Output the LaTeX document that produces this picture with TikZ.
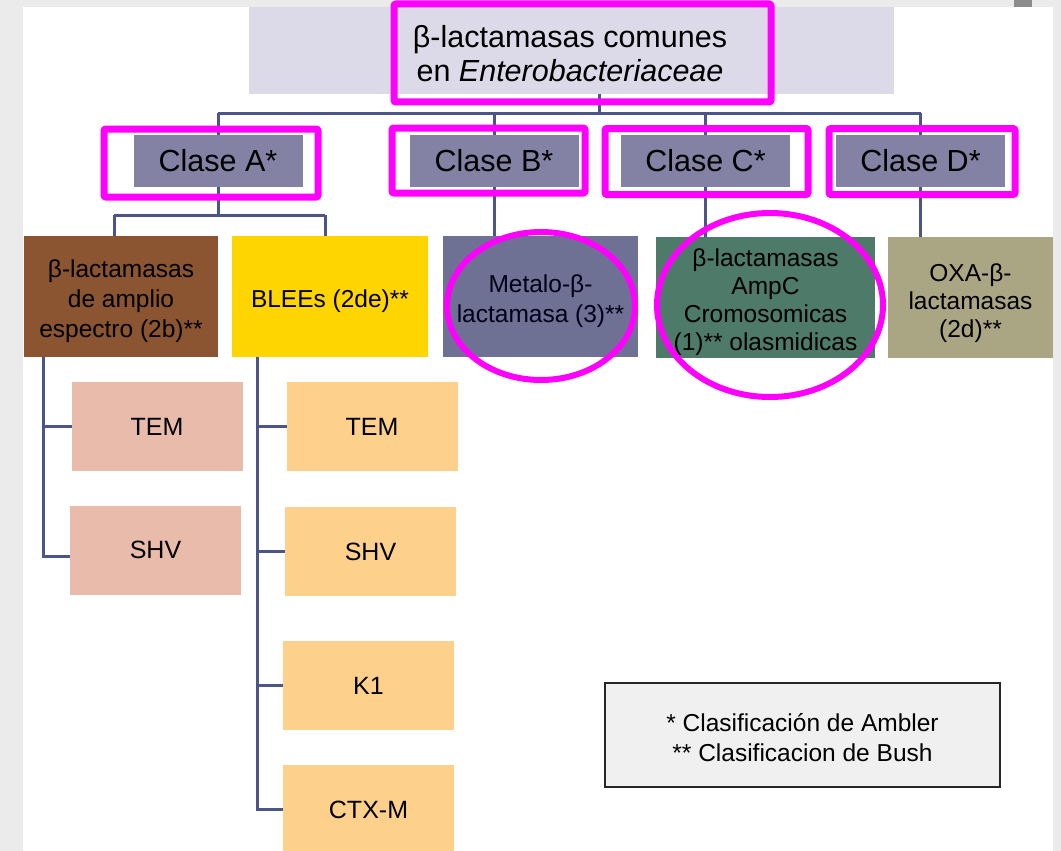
\documentclass[tikz,border=0pt]{standalone}
\usepackage{fontspec}
\setmainfont{Liberation Sans}
\usetikzlibrary{shapes.geometric}
\definecolor{pagegrey}{HTML}{EBEBEB}
\definecolor{tabgrey}{HTML}{8C8C8C}
\definecolor{rootfill}{HTML}{DCDAE8}
\definecolor{classfill}{HTML}{8482A4}
\definecolor{brownfill}{HTML}{8A5530}
\definecolor{goldfill}{HTML}{FFD500}
\definecolor{slatefill}{HTML}{6E7094}
\definecolor{tealfill}{HTML}{4E7A6A}
\definecolor{khakifill}{HTML}{AAA684}
\definecolor{pinkfill}{HTML}{E8BBAA}
\definecolor{orangefill}{HTML}{FDD18C}
\definecolor{legendfill}{HTML}{F0F0F0}
\definecolor{linkblue}{HTML}{4B5589}
\definecolor{hlmag}{HTML}{FF00FF}
% centred stack of lines with no height of its own, lowered by #1
\newcommand{\stackdown}[2]{\raisebox{-#1}[0pt][0pt]{\begin{tabular}{@{}c@{}}#2\end{tabular}}}
\begin{document}
\begin{tikzpicture}[x=1pt,y=-1pt,
  sz/.style 2 args={minimum width=#1pt,minimum height=#2pt},
  tile/.style={rectangle,inner sep=0pt,outer sep=0pt,align=center,text=black},
  rootbox/.style={tile,fill=rootfill},
  classbox/.style={tile,fill=classfill,sz={169}{52},font=\fontsize{30.5}{34}\selectfont},
  groupbox/.style={tile,font=\fontsize{24.5}{30}\selectfont},
  leafA/.style={tile,fill=pinkfill,sz={171}{89},font=\fontsize{25}{28}\selectfont},
  leafB/.style={tile,fill=orangefill,sz={171}{89},font=\fontsize{25}{28}\selectfont},
  legendbox/.style={tile,fill=legendfill,draw=black!85,line width=2pt,font=\fontsize{24.5}{30}\selectfont},
  link/.style={draw=linkblue,line width=3pt},
  hlrect/.style={rectangle,draw=hlmag,line width=7pt,rounded corners=2pt,inner sep=0pt,outer sep=0pt},
  hloval/.style={ellipse,draw=hlmag,line width=6pt,inner sep=0pt,outer sep=0pt}]

% page and panel
\clip (0,0) rectangle (1061,851);
\fill[pagegrey] (0,0) rectangle (1061,851);
\fill[white] (23,7) rectangle (1053,851);
\fill[tabgrey] (1014,0) rectangle (1032,7);

% root
\node[rootbox,sz={645}{87}] (root) at (571.5,50.5) {};
\node[tile,font=\fontsize{30.5}{34}\selectfont] (rootlbl) at (570,54)
  {β-lactamasas comunes\\en \textit{Enterobacteriaceae}};

% Ambler classes
\node[classbox] (clsA) at (218,161) {Clase A*};
\node[classbox] (clsB) at (494,161) {Clase B*};
\node[classbox] (clsC) at (705.5,161) {Clase C*};
\node[classbox] (clsD) at (920.5,161) {Clase D*};

% enzyme groups
\node[groupbox,fill=brownfill,sz={194}{121}] (brown) at (121,296.5)
  {\stackdown{11.5pt}{β-lactamasas\\de amplio\\espectro (2b)**}};
\node[groupbox,fill=goldfill,sz={196}{121}] (blee) at (330,296.5) {\stackdown{11.5pt}{BLEEs (2de)**}};
\node[groupbox,fill=slatefill,sz={195}{121},text=black!90!blue] (metalo) at (540.5,296.5)
  {\stackdown{10.8pt}{Metalo-β-\\lactamasa (3)**}};
\node[groupbox,fill=tealfill,sz={219}{121},font=\fontsize{24.5}{27.8}\selectfont] (ampc) at (765.5,297)
  {\stackdown{12pt}{β-lactamasas\\AmpC\\Cromosomicas\\(1)** olasmidicas}};
\node[groupbox,fill=khakifill,sz={165}{121},font=\fontsize{24.5}{28}\selectfont] (oxa) at (970.5,297)
  {\stackdown{13pt}{OXA-β-\\lactamasas\\(2d)**}};

% broad-spectrum members
\node[leafA] (temA) at (157,426.5) {TEM};
\node[leafA] (shvA) at (155.5,550) {SHV};

% ESBL members
\node[leafB] (temB) at (372,426.5) {TEM};
\node[leafB] (shvB) at (370.5,551.5) {SHV};
\node[leafB] (k1B) at (368.5,685.5) {K1};
\node[leafB] (ctxB) at (368.5,809.5) {CTX-M};

% legend
\node[legendbox,sz={395}{104}] (legend) at (802.5,735)
  {\stackdown{11.5pt}{* Clasificación de Ambler\\{}** Clasificacion de Bush}};

% tree links
\coordinate (hub) at (599,113);
\draw[link] (root.south -| hub) -- (hub);
\draw[link] (clsA.north |- hub) -- (clsD.north |- hub);
\foreach \c in {clsA,clsB,clsC,clsD} \draw[link] (\c.north |- hub) -- (\c.north);

\coordinate (aL) at (114,215);
\coordinate (aR) at (325,215);
\draw[link] (clsA.south) -- (clsA.south |- aL);
\draw[link] (aL) -- (aR);
\draw[link] (aL) -- (aL |- brown.north);
\draw[link] (aR) -- (aR |- blee.north);
\draw[link] (clsB.south) -- (clsB.south |- metalo.north);
\draw[link] (clsC.south) -- (clsC.south |- ampc.north);
\draw[link] (clsD.south) -- (clsD.south |- oxa.north);

\coordinate (spineA) at (43,357);
\draw[link] (spineA) |- ([yshift=-6pt]shvA.west);
\draw[link] (spineA |- temA.west) -- (temA.west);

\coordinate (spineB) at (257,357);
\draw[link] (spineB) |- (ctxB.west);
\foreach \n in {temB,shvB,k1B} \draw[link] (spineB |- \n.west) -- (\n.west);

% highlights
\node[hlrect,sz={377}{98}] (hlRoot) at (582.5,53) {};
\node[hlrect,sz={214}{68}] (hlA) at (211,163) {};
\node[hlrect,sz={193}{65}] (hlB) at (488.5,160.5) {};
\node[hlrect,sz={203}{66}] (hlC) at (706.5,161.5) {};
\node[hlrect,sz={186}{66}] (hlD) at (922,161.5) {};
\node[hloval,sz={188}{148}] (ovMetalo) at (541,306) {};
\node[hloval,sz={226}{184}] (ovAmpC) at (770,305) {};
\end{tikzpicture}
\end{document}
